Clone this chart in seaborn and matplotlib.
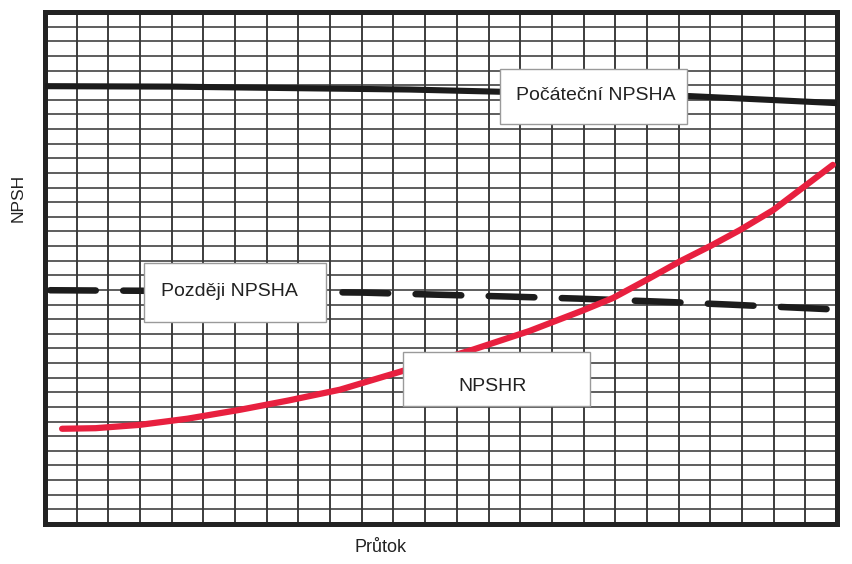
import matplotlib
matplotlib.use("Agg")
import matplotlib.pyplot as plt
from matplotlib.patches import Rectangle
import seaborn as sns
import pandas as pd

# ---- data (grid units) ----
initial_x = [0.0, 4.0, 8.05, 11.5, 14.36, 20.36, 22.8, 25.0]
initial_y = [29.93, 29.9, 29.79, 29.7, 29.55, 29.25, 29.0, 28.77]

later_x = [0.16, 5.0, 10.0, 12.3, 14.6, 16.8, 19.3, 21.6, 24.78]
later_y = [15.98, 15.92, 15.82, 15.68, 15.55, 15.41, 15.21, 15.0, 14.68]

required_x = [0.54, 1.6, 3.0, 4.5, 6.16, 7.7, 9.31, 11.21, 13.51, 15.3,
              16.98, 17.93, 19.0, 20.04, 21.0, 21.94, 22.98, 24.87]
required_y = [6.51, 6.55, 6.78, 7.2, 7.81, 8.45, 9.18, 10.41, 11.92, 13.2,
              14.6, 15.45, 16.7, 17.95, 19.0, 20.1, 21.45, 24.55]

labels = ["Počáteční NPSHA", "Později NPSHA", "NPSHR"]
x_label = "Průtok"
y_label = "NPSH"

sns.set_theme(style="white")
plt.rcParams["font.family"] = ["Liberation Sans", "DejaVu Sans"]

fig = plt.figure(figsize=(8.52, 5.64), dpi=100)
ax = fig.add_axes([45 / 852, 40 / 564, 792 / 852, 512 / 564])

df_init = pd.DataFrame({"x": initial_x, "y": initial_y})
df_later = pd.DataFrame({"x": later_x, "y": later_y})
df_req = pd.DataFrame({"x": required_x, "y": required_y})

sns.lineplot(data=df_init, x="x", y="y", ax=ax, color="#1c1c1c", lw=4.4,
             sort=False, zorder=3, solid_joinstyle="round")
sns.lineplot(data=df_later, x="x", y="y", ax=ax, color="#1c1c1c", lw=4.7,
             sort=False, zorder=3, linestyle=(0, (7.0, 4.2)),
             dash_capstyle="round")
sns.lineplot(data=df_req, x="x", y="y", ax=ax, color="#e8203f", lw=4.5,
             sort=False, zorder=3, solid_capstyle="round",
             solid_joinstyle="round")

ax.set_xlim(0, 25)
ax.set_ylim(0, 35)
ax.set_xticks(range(26))
ax.set_yticks(range(36))
ax.set_xticklabels([])
ax.set_yticklabels([])
ax.tick_params(length=0)
ax.set_xlabel("")
ax.set_ylabel("")
ax.xaxis.grid(True, color="#2e2e2e", lw=1.3)
ax.yaxis.grid(True, color="#3a3a3a", lw=1.15)
ax.set_axisbelow(True)
for s in ax.spines.values():
    s.set_visible(True)
    s.set_color("#222222")
    s.set_linewidth(3.6)

# label boxes (annotation positions in grid units)
boxes = [
    ((14.36, 27.33), 5.91, 3.77, (17.38, 29.3)),
    ((3.14, 13.84), 5.73, 3.97, (5.81, 15.9)),
    ((11.30, 8.08), 5.90, 3.70, (14.14, 9.4)),
]
for lab, (xy, w, h, txy) in zip(labels, boxes):
    ax.add_patch(Rectangle(xy, w, h, facecolor="white", edgecolor="#9a9a9a",
                           lw=1.0, zorder=5))
    ax.text(txy[0], txy[1], lab, ha="center", va="center", fontsize=14,
            color="#222222", zorder=6)

fig.text(381 / 852, 1 - 548 / 564, x_label, ha="center", va="center",
         fontsize=13, color="#222222")
fig.text(18 / 852, 1 - 198 / 564, y_label, ha="center", va="center",
         fontsize=12.5, rotation=90, color="#222222")

fig.savefig("out.png", dpi=100, facecolor="white")
